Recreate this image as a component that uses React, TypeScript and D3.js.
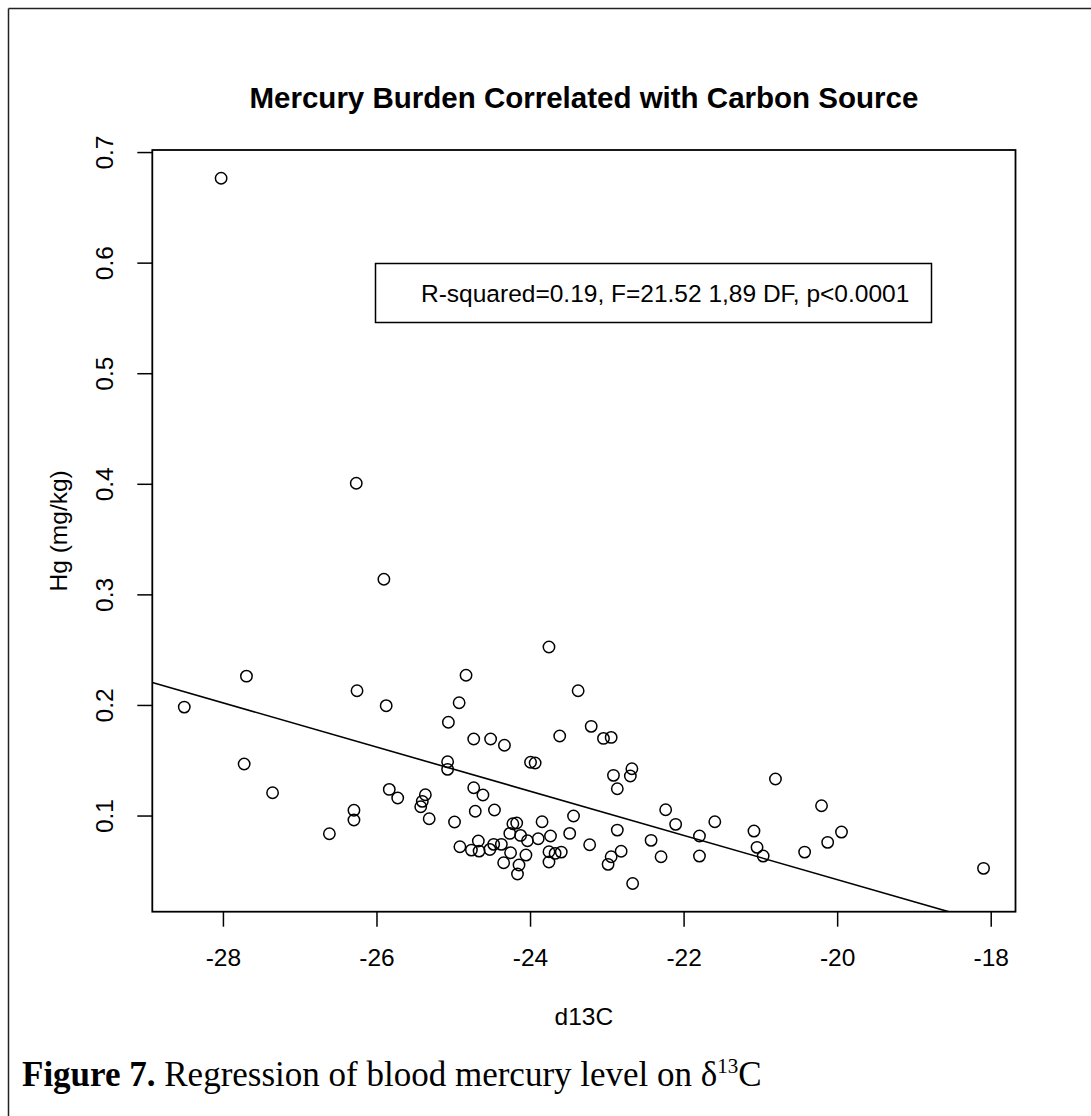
import React from "react";
import * as d3 from "d3";

// d13C values (x) and Hg mg/kg (y)
const d13C = [
  -28.51, -27.70, -27.73, -27.36, -26.62, -26.30, -26.30, -26.26, -25.88, -25.84,
  -25.73, -25.37, -25.41, -25.43, -25.32, -28.03, -26.27, -25.91, -23.76, -24.84,
  -24.93, -25.07, -24.74, -24.52, -24.34, -23.38, -23.62, -23.21, -23.05, -22.95,
  -25.08, -25.08, -24.00, -23.94, -22.68, -22.70, -22.92, -22.87, -24.74, -24.62,
  -24.72, -24.47, -24.99, -23.44, -22.24, -22.11, -21.60, -21.80, -21.80, -21.09,
  -21.05, -20.97, -22.43, -22.30, -22.87, -22.82, -22.95, -22.99, -22.67, -23.23,
  -23.49, -23.85, -23.74, -23.90, -24.23, -24.18, -24.27, -24.13, -24.04, -24.68,
  -24.48, -24.38, -24.92, -24.77, -24.67, -24.53, -24.26, -24.06, -23.76, -23.68,
  -23.60, -23.76, -24.35, -24.15, -24.17, -20.81, -20.21, -19.95, -20.13, -20.43,
  -18.10,
];
const hg = [
  0.1985, 0.2265, 0.147, 0.1211, 0.084, 0.1052, 0.0964, 0.2133, 0.1998, 0.1241,
  0.1163, 0.1193, 0.1133, 0.1084, 0.0976, 0.6768, 0.401, 0.3141, 0.2529, 0.2273,
  0.2025, 0.1848, 0.1697, 0.1697, 0.164, 0.2133, 0.1724, 0.1811, 0.1702, 0.1711,
  0.1491, 0.1422, 0.1486, 0.148, 0.1428, 0.1362, 0.1368, 0.1247, 0.1256, 0.119,
  0.1043, 0.1054, 0.0946, 0.1, 0.1057, 0.0925, 0.0948, 0.0819, 0.0638, 0.0864,
  0.0717, 0.0638, 0.078, 0.0632, 0.0873, 0.0681, 0.0632, 0.0563, 0.039, 0.074,
  0.0843, 0.0948, 0.0819, 0.0795, 0.093, 0.0937, 0.0843, 0.0825, 0.0777, 0.0774,
  0.0744, 0.0744, 0.0722, 0.0692, 0.0683, 0.0698, 0.0668, 0.0647, 0.0677, 0.0662,
  0.0674, 0.0584, 0.0578, 0.0557, 0.0476, 0.1335, 0.1093, 0.0855, 0.0762, 0.0674,
  0.0527,
];

// fitted regression line
const fitIntercept = -0.3572;
const fitSlope = -0.01998;

const xTicks = [-28, -26, -24, -22, -20, -18];
const yTicks = [0.1, 0.2, 0.3, 0.4, 0.5, 0.6, 0.7];

const titleText = "Mercury Burden Correlated with Carbon Source";
const xLabel = "d13C";
const yLabel = "Hg (mg/kg)";
const legendText = "R-squared=0.19, F=21.52 1,89 DF, p<0.0001";

const W = 1091;
const H = 1116;
const plot = { left: 152.3, right: 1015.5, top: 150, bottom: 911.7 };

function extend(vals: number[]): [number, number] {
  const [lo, hi] = d3.extent(vals) as [number, number];
  const e = (hi - lo) * 0.04;
  return [lo - e, hi + e];
}

export default function App() {
  const xDom = extend(d13C);
  const yDom = extend(hg);
  const x = d3.scaleLinear().domain(xDom).range([plot.left, plot.right]);
  const y = d3.scaleLinear().domain(yDom).range([plot.bottom, plot.top]);
  const pts = d13C.map((v, i) => ({ x: v, y: hg[i] }));
  const line = d3
    .line<number>()
    .x((d) => x(d))
    .y((d) => y(fitIntercept + fitSlope * d));
  const sans = "'Liberation Sans', Arial, sans-serif";
  const serif = "'Liberation Serif', 'Times New Roman', serif";
  const fs = 24.5;
  const tick = 15;

  return (
    <svg
      width={W}
      height={H}
      style={{ position: "absolute", left: 0, top: 0, background: "#fff" }}
      fontFamily={sans}
    >
      <rect x={0} y={0} width={W} height={H} fill="#fff" />
      {/* figure frame */}
      <line x1={8.5} y1={8.5} x2={W} y2={8.5} stroke="#222" strokeWidth={1.5} />
      <line x1={8.5} y1={8.5} x2={8.5} y2={H} stroke="#222" strokeWidth={1.5} />

      <defs>
        <clipPath id="plotclip">
          <rect x={plot.left} y={plot.top} width={plot.right - plot.left} height={plot.bottom - plot.top} />
        </clipPath>
      </defs>

      {/* title */}
      <text x={(plot.left + plot.right) / 2} y={108} textAnchor="middle" fontWeight="bold" fontSize={29.5} fill="#000">
        {titleText}
      </text>

      {/* plot box */}
      <rect
        x={plot.left}
        y={plot.top}
        width={plot.right - plot.left}
        height={plot.bottom - plot.top}
        fill="none"
        stroke="#000"
        strokeWidth={1.8}
      />

      {/* x axis */}
      {xTicks.map((t) => (
        <g key={"xt" + t}>
          <line x1={x(t)} x2={x(t)} y1={plot.bottom} y2={plot.bottom + tick} stroke="#000" strokeWidth={1.5} />
          <text x={x(t)} y={plot.bottom + 54} textAnchor="middle" fontSize={fs} fill="#000">
            {String(t)}
          </text>
        </g>
      ))}
      <text x={(plot.left + plot.right) / 2} y={1025} textAnchor="middle" fontSize={fs} fill="#000">
        {xLabel}
      </text>

      {/* y axis */}
      {yTicks.map((t) => (
        <g key={"yt" + t}>
          <line x1={plot.left - tick} x2={plot.left} y1={y(t)} y2={y(t)} stroke="#000" strokeWidth={1.5} />
          <text
            transform={`translate(${plot.left - 39},${y(t)}) rotate(-90)`}
            textAnchor="middle"
            fontSize={fs}
            fill="#000"
          >
            {t.toFixed(1)}
          </text>
        </g>
      ))}
      <text
        transform={`translate(${67},${(plot.top + plot.bottom) / 2}) rotate(-90)`}
        textAnchor="middle"
        fontSize={fs}
        fill="#000"
      >
        {yLabel}
      </text>

      {/* regression line */}
      <path d={line(xDom) || ""} fill="none" stroke="#000" strokeWidth={1.6} clipPath="url(#plotclip)" />

      {/* points */}
      {pts.map((p, i) => (
        <circle key={i} cx={x(p.x)} cy={y(p.y)} r={5.7} fill="none" stroke="#000" strokeWidth={1.5} />
      ))}

      {/* legend */}
      <rect x={375.5} y={263.5} width={556} height={59} fill="#fff" stroke="#000" strokeWidth={1.5} />
      <text x={421} y={302} fontSize={fs} fill="#000">
        {legendText}
      </text>

      {/* caption */}
      <text x={22} y={1086} fontFamily={serif} fontSize={35} fill="#000">
        <tspan fontWeight="bold">Figure 7.</tspan>
        <tspan> Regression of blood mercury level on δ</tspan>
        <tspan fontSize={21} dy={-13}>13</tspan>
        <tspan dy={13}>C</tspan>
      </text>
    </svg>
  );
}
